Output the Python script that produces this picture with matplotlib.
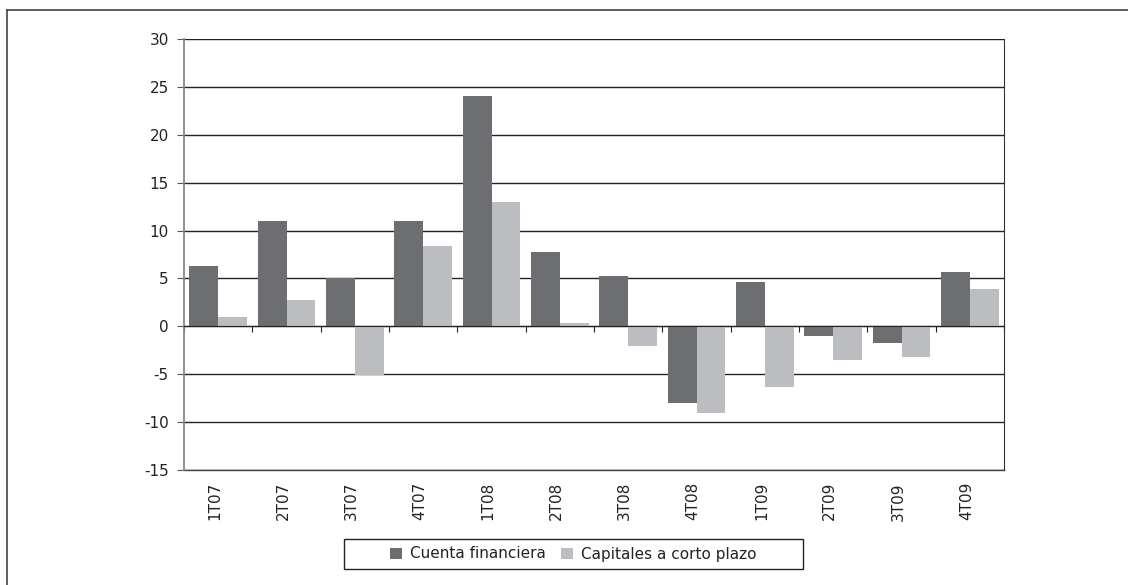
import matplotlib
matplotlib.use("Agg")
import matplotlib.pyplot as plt
import numpy as np
from matplotlib.lines import Line2D
from matplotlib.patches import Rectangle

quarters = ["1T07", "2T07", "3T07", "4T07", "1T08", "2T08",
            "3T08", "4T08", "1T09", "2T09", "3T09", "4T09"]
cuenta_financiera = [6.3, 11.0, 5.0, 11.0, 24.1, 7.8, 5.3, -8.0, 4.6, -1.0, -1.7, 5.7]
capitales_corto = [1.0, 2.8, -5.1, 8.4, 13.0, 0.3, -2.1, -9.1, -6.3, -3.5, -3.2, 3.9]
yticks = [-15, -10, -5, 0, 5, 10, 15, 20, 25, 30]

DARK = "#6d6e71"
LIGHT = "#bcbdc0"
FS = 11

plt.rcParams["font.family"] = ["DejaVu Sans"]
plt.rcParams["axes.unicode_minus"] = False

W, H = 1128, 585
fig = plt.figure(figsize=(W / 100, H / 100), dpi=100)
ax = fig.add_axes([184 / W, 1 - 470 / H, 820 / W, 431 / H])

x = np.arange(len(quarters))
w = 0.42
ax.bar(x - w / 2, cuenta_financiera, w, color=DARK, zorder=3, label="Cuenta financiera")
ax.bar(x + w / 2, capitales_corto, w, color=LIGHT, zorder=3, label="Capitales a corto plazo")

ax.set_xlim(-0.5, len(quarters) - 0.5)
ax.set_ylim(-15, 30)
ax.set_yticks(yticks)
ax.yaxis.grid(True, color="#222222", linewidth=1.0, zorder=1)
ax.axhline(-15, color="#444444", linewidth=1.0, clip_on=False, zorder=2)
ax.tick_params(axis="y", length=5, color="#555555", labelsize=FS, labelcolor="#222222", pad=6)

# x axis sits on the zero line; ticks mark the category boundaries
ax.spines["bottom"].set_position(("data", 0))
ax.spines["bottom"].set_color("#222222")
ax.spines["bottom"].set_zorder(4)
ax.set_xticks(np.arange(len(quarters) + 1) - 0.5)
ax.tick_params(axis="x", length=4, direction="out", color="#222222", labelbottom=False)
ax.spines["top"].set_visible(False)
ax.spines["left"].set_color("#888888")
ax.spines["left"].set_linewidth(1.3)
ax.spines["right"].set_color("#333333")

# category labels below the plot area
trans = ax.get_xaxis_transform()
for xi, q in zip(x, quarters):
    ax.text(xi - 0.05, -0.028, q, transform=trans, rotation=90, ha="center", va="top",
            fontsize=FS, color="#222222")

# legend entries without frame; the wide box is drawn separately
leg = fig.legend(loc="center", bbox_to_anchor=(573.5 / W, 1 - 554 / H), ncol=2, frameon=False,
                 fontsize=FS, handlelength=0.75, handleheight=0.75, handletextpad=0.55,
                 columnspacing=1.0, borderpad=0.0)
for t in leg.get_texts():
    t.set_color("#222222")
fig.add_artist(Rectangle((344 / W, 1 - 569 / H), 459 / W, 30 / H, transform=fig.transFigure,
                         fill=False, edgecolor="#222222", linewidth=1.0))

# outer frame (top and left edges)
fig.add_artist(Line2D([7 / W, 1.0], [1 - 10 / H, 1 - 10 / H], color="#444444", lw=1.2))
fig.add_artist(Line2D([7 / W, 7 / W], [1 - 10 / H, 0.0], color="#444444", lw=1.2))

fig.savefig("out.png", dpi=100)
